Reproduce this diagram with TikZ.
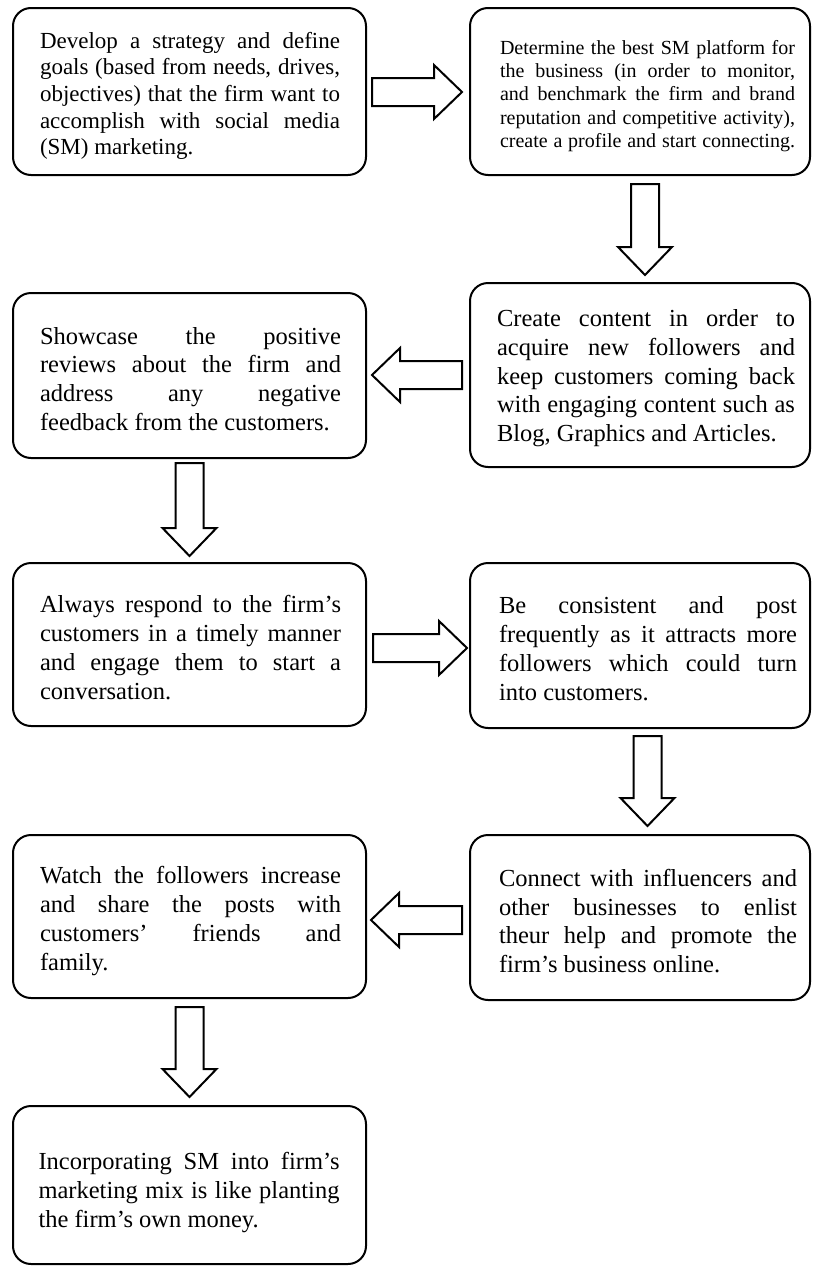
\documentclass[tikz,border=0pt]{standalone}
\usepackage{fontspec}
\setmainfont{Liberation Serif}
\usetikzlibrary{calc}

% justified box texts: allow wide gaps, never hyphenate
\tolerance=10000
\hbadness=10000
\hyphenpenalty=10000

\tikzset{
  x=1pt, y=1pt,
  box/.style={draw=black, line width=2pt, rounded corners=18pt, inner sep=0pt},
  boxtext/.style={text width=301pt, align=justify, inner sep=0pt,
    font=\fontsize{24.5}{28.8}\selectfont},
  righttext/.style={boxtext, text width=298pt},
  firsttext/.style={boxtext, text width=300pt, font=\fontsize{23}{26.6}\selectfont},
  smalltext/.style={boxtext, text width=295pt, font=\fontsize{20}{23.3}\selectfont},
  barrow/.style={draw=black, line width=2pt, line join=miter, fill=white},
}

% hollow block arrow from tail coordinate #1 to tip coordinate #2
\newcommand\blockarrow[2]{%
  \coordinate (ba-h) at ($(#2)!28pt!(#1)$);
  \draw[barrow] ($(#1)!14pt!90:(#2)$) -- ($(ba-h)!14pt!-90:(#1)$)
    -- ($(ba-h)!27pt!-90:(#1)$) -- (#2) -- ($(ba-h)!27pt!90:(#1)$)
    -- ($(ba-h)!14pt!90:(#1)$) -- ($(#1)!14pt!-90:(#2)$) -- cycle;
}

\begin{document}
\begin{tikzpicture}
\useasboundingbox (0,0) rectangle (812,-1266);

% process boxes
\node[box, minimum width=353pt, minimum height=167pt] (b1) at (189.5,-91.5) {};
\node[box, minimum width=340pt, minimum height=167pt] (b2) at (640,-91.5) {};
\node[box, minimum width=340pt, minimum height=184pt] (b3) at (640,-375) {};
\node[box, minimum width=353pt, minimum height=165pt] (b4) at (189.5,-375.5) {};
\node[box, minimum width=353pt, minimum height=163pt] (b5) at (189.5,-644.5) {};
\node[box, minimum width=340pt, minimum height=165pt] (b6) at (640,-645.5) {};
\node[box, minimum width=340pt, minimum height=165pt] (b7) at (640,-917.5) {};
\node[box, minimum width=353pt, minimum height=163pt] (b8) at (189.5,-916.5) {};
\node[box, minimum width=353pt, minimum height=158pt] (b9) at (189.5,-1185) {};

% box texts
\node[firsttext] (t1) at ($(b1.center)+(0.5,-4.3)$) {Develop a strategy and define\linebreak
goals (based from needs, drives,\linebreak
objectives) that the firm want to\linebreak
accomplish with social media\linebreak
(SM) marketing.};

\node[smalltext] (t2) at ($(b2.center)+(7.5,-4.5)$) {{\parfillskip=0pt
Determine the best SM platform for\linebreak
the business (in order to monitor,\linebreak
and benchmark the firm and brand\linebreak
reputation and competitive activity),\linebreak
create a profile and start connecting.\par}};

\node[righttext] (t3) at ($(b3.center)+(6,-3.3)$) {Create content in order to\linebreak
acquire new followers and\linebreak
keep customers coming back\linebreak
with engaging content such as\linebreak
Blog, Graphics and Articles.};

\node[boxtext] (t4) at ($(b4.center)+(1,-3.5)$) {Showcase the positive\linebreak
reviews about the firm and\linebreak
address any negative\linebreak
feedback from the customers.};

\node[boxtext] (t5) at ($(b5.center)+(1,-3)$) {Always respond to the firm’s\linebreak
customers in a timely manner\linebreak
and engage them to start a\linebreak
conversation.};

\node[righttext] (t6) at ($(b6.center)+(8,-3)$) {Be consistent and post\linebreak
frequently as it attracts more\linebreak
followers which could turn\linebreak
into customers.};

\node[righttext] (t7) at ($(b7.center)+(8,-3.5)$) {Connect with influencers and\linebreak
other businesses to enlist\linebreak
theur help and promote the\linebreak
firm’s business online.};

\node[boxtext] (t8) at ($(b8.center)+(1,-4.5)$) {Watch the followers increase\linebreak
and share the posts with\linebreak
customers’ friends and\linebreak
family.};

\node[boxtext] (t9) at ($(b9.center)+(-0.5,-7.5)$) {Incorporating SM into firm’s\linebreak
marketing mix is like planting\linebreak
the firm’s own money.};

% arrow end points
\coordinate (a1s) at ($(b1.east)+(5,-0.5)$);
\coordinate (a1e) at ($(b2.west)+(-7,-0.5)$);
\coordinate (a2s) at ($(b2.south)+(5,-8)$);
\coordinate (a2e) at ($(b3.north)+(5,7)$);
\coordinate (a3s) at ($(b3.west)+(-7,0)$);
\coordinate (a3e) at ($(b4.east |- b3.west)+(5,0)$);
\coordinate (a4s) at ($(b4.south)+(0,-4)$);
\coordinate (a4e) at ($(b5.north)+(0,6)$);
\coordinate (a5s) at ($(b5.east)+(6,-3.5)$);
\coordinate (a5e) at ($(b6.west |- a5s)+(-2,0)$);
\coordinate (a6s) at ($(b6.south)+(7.5,-7)$);
\coordinate (a6e) at ($(b7.north)+(7.5,8)$);
\coordinate (a7s) at ($(b7.west)+(-7,-2.5)$);
\coordinate (a7e) at ($(b8.east |- a7s)+(4,0)$);
\coordinate (a8s) at ($(b8.south)+(0,-8)$);
\coordinate (a8e) at ($(b9.north)+(0,8)$);

% hollow block arrows between the steps
\blockarrow{a1s}{a1e}
\blockarrow{a2s}{a2e}
\blockarrow{a3s}{a3e}
\blockarrow{a4s}{a4e}
\blockarrow{a5s}{a5e}
\blockarrow{a6s}{a6e}
\blockarrow{a7s}{a7e}
\blockarrow{a8s}{a8e}
\end{tikzpicture}
\end{document}
